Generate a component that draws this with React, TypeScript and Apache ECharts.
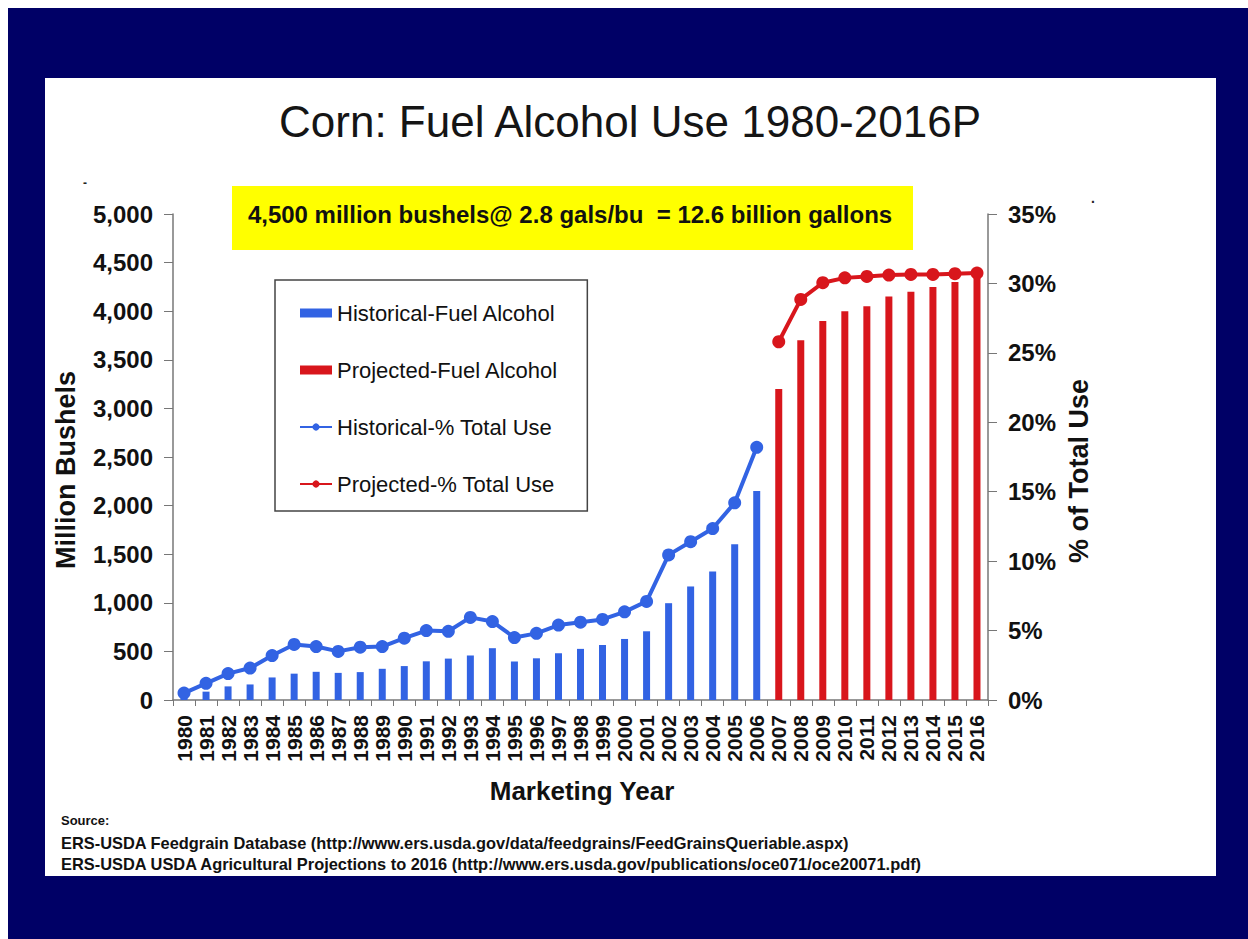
import React, { useEffect, useRef } from "react";
import * as echarts from "echarts";

const years = [
  "1980", "1981", "1982", "1983", "1984", "1985", "1986", "1987", "1988", "1989",
  "1990", "1991", "1992", "1993", "1994", "1995", "1996", "1997", "1998", "1999",
  "2000", "2001", "2002", "2003", "2004", "2005", "2006", "2007", "2008", "2009",
  "2010", "2011", "2012", "2013", "2014", "2015", "2016",
];

// Million bushels, historical 1980-2006
const histBushels = [
  35, 86, 140, 160, 232, 271, 290, 279, 287, 321, 349, 398, 426, 458, 533, 396,
  429, 481, 526, 566, 628, 707, 996, 1168, 1323, 1603, 2150,
];
// Million bushels, projected 2007-2016
const projBushels = [3200, 3700, 3900, 4000, 4050, 4150, 4200, 4250, 4300, 4350];

// % of total use, historical 1980-2006
const histPct = [
  0.5, 1.2, 1.9, 2.3, 3.2, 4.0, 3.85, 3.5, 3.8, 3.85, 4.45, 5.0, 4.95, 5.95, 5.65,
  4.5, 4.8, 5.4, 5.6, 5.8, 6.35, 7.1, 10.45, 11.4, 12.35, 14.2, 18.2,
];
// % of total use, projected 2007-2016
const projPct = [25.8, 28.85, 30.05, 30.4, 30.5, 30.6, 30.65, 30.65, 30.7, 30.75];

const leftTicksMax = 5000;
const leftInterval = 500;
const rightTicksMax = 35;
const rightInterval = 5;

const titleText = "Corn: Fuel Alcohol Use 1980-2016P";
const boxText = "4,500 million bushels@ 2.8 gals/bu  = 12.6 billion gallons";
const leftAxisName = "Million Bushels";
const rightAxisName = "% of Total Use";
const xAxisName = "Marketing Year";
const sourceLines = [
  "Source:",
  "ERS-USDA Feedgrain Database (http://www.ers.usda.gov/data/feedgrains/FeedGrainsQueriable.aspx)",
  "ERS-USDA USDA Agricultural Projections to 2016 (http://www.ers.usda.gov/publications/oce071/oce20071.pdf)",
];

const BLUE = "#3263e3";
const RED = "#d8161c";
const FONT = "'Liberation Sans', Arial, sans-serif";

export default function App() {
  const ref = useRef<HTMLDivElement>(null);

  useEffect(() => {
    if (!ref.current) return;
    const chart = echarts.init(ref.current, undefined, { renderer: "svg" });

    const nHist = histBushels.length;
    const nProj = projBushels.length;
    const pad = (n: number) => new Array(n).fill(null);

    const histBarData = [...histBushels, ...pad(nProj)];
    const projBarData = [...pad(nHist), ...projBushels];
    const histLineData = [...histPct, ...pad(nProj)];
    const projLineData = [...pad(nHist), ...projPct];

    const option: any = {
      animation: false,
      backgroundColor: "transparent",
      textStyle: { fontFamily: FONT },
      graphic: [
        { type: "rect", z: -10, shape: { x: 8, y: 8, width: 1240, height: 931 }, style: { fill: "#000066" } },
        { type: "rect", z: -9, shape: { x: 45, y: 78, width: 1171, height: 798 }, style: { fill: "#ffffff" } },
        {
          type: "text", x: 630, y: 121,
          style: { text: titleText, fontSize: 44, fontFamily: FONT, fill: "#151515", align: "center", verticalAlign: "middle" },
        },
        { type: "rect", z: 1, shape: { x: 232, y: 186, width: 681, height: 64 }, style: { fill: "#ffff00" } },
        {
          type: "text", z: 2, x: 570, y: 214,
          style: { text: boxText, fontSize: 24, fontWeight: "bold", fontFamily: FONT, fill: "#111", align: "center", verticalAlign: "middle" },
        },
        {
          type: "text", x: 66, y: 470, rotation: Math.PI / 2,
          style: { text: leftAxisName, fontSize: 27, fontWeight: "bold", fontFamily: FONT, fill: "#111", align: "center", verticalAlign: "middle" },
        },
        {
          type: "text", x: 1079, y: 471, rotation: Math.PI / 2,
          style: { text: rightAxisName, fontSize: 27, fontWeight: "bold", fontFamily: FONT, fill: "#111", align: "center", verticalAlign: "middle" },
        },
        {
          type: "text", x: 582, y: 791,
          style: { text: xAxisName, fontSize: 26, fontWeight: "bold", fontFamily: FONT, fill: "#111", align: "center", verticalAlign: "middle" },
        },
        {
          type: "text", x: 85, y: 183,
          style: { text: "-", fontSize: 12, fontWeight: "bold", fontFamily: FONT, fill: "#222", align: "center", verticalAlign: "middle" },
        },
        {
          type: "text", x: 1093, y: 198,
          style: { text: ".", fontSize: 14, fontWeight: "bold", fontFamily: FONT, fill: "#222", align: "center", verticalAlign: "middle" },
        },
        {
          type: "text", x: 61, y: 820,
          style: { text: sourceLines[0], fontSize: 13, fontWeight: "bold", fontFamily: FONT, fill: "#111", verticalAlign: "middle" },
        },
        {
          type: "text", x: 61, y: 843,
          style: { text: sourceLines[1], fontSize: 16.4, fontWeight: "bold", fontFamily: FONT, fill: "#111", verticalAlign: "middle" },
        },
        {
          type: "text", x: 61, y: 864,
          style: { text: sourceLines[2], fontSize: 16.4, fontWeight: "bold", fontFamily: FONT, fill: "#111", verticalAlign: "middle" },
        },
      ],
      legend: {
        orient: "vertical",
        left: 275,
        top: 280,
        padding: [22, 29, 16, 24],
        itemGap: 35,
        itemWidth: 32,
        itemHeight: 9,
        backgroundColor: "#ffffff",
        borderColor: "#444",
        borderWidth: 1.5,
        textStyle: { fontSize: 22, color: "#111", fontFamily: FONT },
        data: [
          { name: "Historical-Fuel Alcohol", icon: "rect" },
          { name: "Projected-Fuel Alcohol", icon: "rect" },
          { name: "Historical-% Total Use" },
          { name: "Projected-% Total Use" },
        ],
      },
      grid: { left: 173, right: 260, top: 214, bottom: 239, containLabel: false },
      xAxis: {
        type: "category",
        data: years,
        boundaryGap: true,
        axisLine: { lineStyle: { color: "#777", width: 1.5 } },
        axisTick: { show: true, alignWithLabel: false, length: 6, lineStyle: { color: "#777" } },
        axisLabel: {
          interval: 0, rotate: 90, fontSize: 21, fontWeight: "bold", color: "#111", margin: 15,
        },
        splitLine: { show: false },
      },
      yAxis: [
        {
          type: "value",
          min: 0,
          max: leftTicksMax,
          interval: leftInterval,
          axisLine: { show: true, lineStyle: { color: "#777", width: 1.5 } },
          axisTick: { show: true, length: 9, lineStyle: { color: "#777" } },
          axisLabel: {
            fontSize: 24, fontWeight: "bold", color: "#111", margin: 20,
            formatter: (v: number) => v.toLocaleString("en-US"),
          },
          splitLine: { show: false },
        },
        {
          type: "value",
          min: 0,
          max: rightTicksMax,
          interval: rightInterval,
          position: "right",
          axisLine: { show: true, lineStyle: { color: "#777", width: 1.5 } },
          axisTick: { show: true, length: 9, lineStyle: { color: "#777" } },
          axisLabel: {
            fontSize: 24, fontWeight: "bold", color: "#111", margin: 20,
            formatter: "{value}%",
          },
          splitLine: { show: false },
        },
      ],
      series: [
        {
          name: "Historical-Fuel Alcohol",
          type: "bar",
          yAxisIndex: 0,
          barWidth: 7,
          barGap: "-100%",
          itemStyle: { color: BLUE },
          data: histBarData,
        },
        {
          name: "Projected-Fuel Alcohol",
          type: "bar",
          yAxisIndex: 0,
          barWidth: 7,
          barGap: "-100%",
          itemStyle: { color: RED },
          data: projBarData,
        },
        {
          name: "Historical-% Total Use",
          type: "line",
          yAxisIndex: 1,
          symbol: "circle",
          symbolSize: 13,
          lineStyle: { color: BLUE, width: 4 },
          itemStyle: { color: BLUE },
          data: histLineData,
          z: 5,
        },
        {
          name: "Projected-% Total Use",
          type: "line",
          yAxisIndex: 1,
          symbol: "circle",
          symbolSize: 13,
          lineStyle: { color: RED, width: 4 },
          itemStyle: { color: RED },
          data: projLineData,
          z: 5,
        },
      ],
    };

    chart.setOption(option);
    return () => chart.dispose();
  }, []);

  return (
    <div
      ref={ref}
      style={{ position: "absolute", left: 0, top: 0, width: 1248, height: 939 }}
    />
  );
}
